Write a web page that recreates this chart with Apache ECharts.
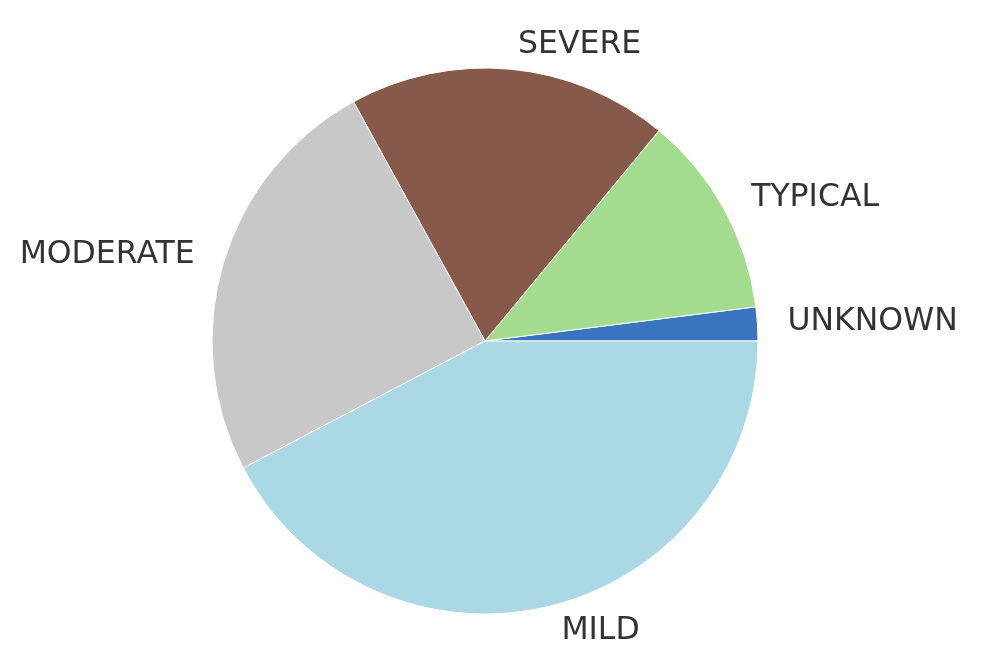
<!DOCTYPE html>
<html>
<head>
<meta charset="utf-8">
<script src="https://cdn.jsdelivr.net/npm/echarts@6/dist/echarts.min.js"></script>
<style>
  html, body { margin: 0; padding: 0; background: #fff; }
  #main { width: 988px; height: 668px; }
</style>
</head>
<body>
<div id="main"></div>
<script>
// categories and shares, in drawing order (counter-clockwise from 3 o'clock)
const categories = ['UNKNOWN', 'TYPICAL', 'SEVERE', 'MODERATE', 'MILD'];
const shares = [2.0, 12.0, 19.0, 24.7, 42.3];
const colors = ['#3a74bf', '#a3dc8f', '#87594b', '#c8c8c8', '#aad9e5'];

let myChart = echarts.init(document.getElementById('main'));
let option = {
    backgroundColor: '#fff',
    animation: false,
    series: [
        {
            type: 'pie',
            center: [485, 341],
            radius: 273,
            startAngle: 0,
            clockwise: false,
            avoidLabelOverlap: false,
            itemStyle: {
                borderColor: '#fff',
                borderWidth: 1,
            },
            label: {
                show: true,
                position: 'outside',
                color: '#333',
                fontFamily: 'DejaVu Sans',
                fontSize: 31.5,
                distanceToLabelLine: 5,
            },
            labelLine: {
                show: false,
                length: 25,
                length2: 0,
            },
            data: categories.map((name, i) => ({
                name: name,
                value: shares[i],
                itemStyle: { color: colors[i] },
            })),
        },
    ],
};
option && myChart.setOption(option);
</script>
</body>
</html>
